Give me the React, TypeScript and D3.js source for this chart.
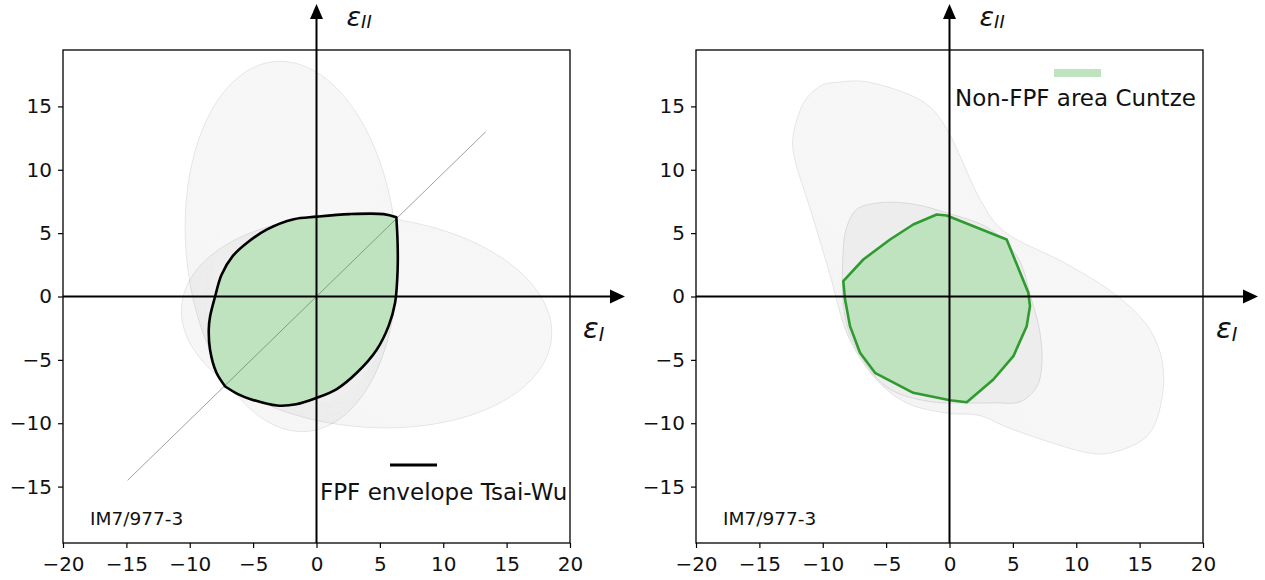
import React, { useEffect, useRef } from "react";
import * as d3 from "d3";

type Pt = [number, number];

const xTicks = [-20, -15, -10, -5, 0, 5, 10, 15, 20];
const yTicks = [-15, -10, -5, 0, 5, 10, 15];
const materialLabel = "IM7/977-3";
const tsaiWuLegend = "FPF envelope Tsai-Wu";
const cuntzeLegend = "Non-FPF area Cuntze";

// ply envelopes (Tsai-Wu): cx, cy, rx, ry, rotation in degrees
const tsaiWu90Outer = [-2.0, 3.95, 8.3, 14.65, 5];
const tsaiWu90Inner = [-1.3, 0.3, 7.0, 9.0, 5];
const tsaiWu0Outer = [3.95, -2.0, 14.65, 8.3, -5];
const tsaiWu0Inner = [0.3, -1.3, 9.0, 7.0, -5];

const diagonal: Pt[] = [[-14.9, -14.5], [13.35, 13.0]];

// FPF envelope, two arcs between the sharp corners
const tsaiWuUpperArc: Pt[] = [
  [6.3, 6.25], [5.3, 6.5], [2.6, 6.5], [0, 6.3], [-1.8, 6.1], [-3.9, 5.3],
  [-5.4, 4.3], [-6.6, 3.2], [-7.5, 1.7], [-8.0, 0], [-8.4, -1.6], [-8.5, -2.6],
  [-8.4, -4.2], [-7.9, -6.0], [-7.2, -7.1],
];
const tsaiWuLowerArc: Pt[] = [
  [-7.2, -7.1], [-6.2, -7.7], [-5.2, -8.1], [-3.1, -8.6], [-1.6, -8.5], [0, -8.0],
  [1.6, -7.3], [3.2, -6.0], [4.75, -4.2], [5.7, -2.3], [6.2, -0.5], [6.4, 2.1],
  [6.4, 4.2], [6.3, 6.25],
];

// Cuntze ply areas
const cuntzeOuter: Pt[] = [
  [-8.9, 16.9], [-6.3, 16.9], [-2.3, 15.5], [-0.2, 13.2], [2.4, 7.7], [4.5, 5.0],
  [9.0, 2.7], [12.9, 0.3], [15.6, -2.3], [16.8, -5.2], [16.7, -8.4], [15.6, -11.0],
  [12.9, -12.3], [10.3, -12.2], [5.0, -10.5], [2.4, -9.4], [-0.2, -9.2],
  [-3.4, -8.4], [-6.0, -6.3], [-8.1, -2.9], [-9.4, 1.6], [-10.8, 6.3],
  [-12.2, 10.8], [-12.3, 12.9], [-11.5, 15.3], [-10.2, 16.6],
];
const cuntzeInner: Pt[] = [
  [-8.4, 3.4], [-8.1, 5.5], [-7.3, 6.9], [-5.5, 7.4], [-2.9, 7.3], [-0.2, 6.6],
  [2.9, 5.5], [4.5, 4.2], [5.6, 2.7], [6.4, 0], [7.1, -2.6], [7.3, -5.2],
  [6.9, -7.1], [5.6, -8.3], [3.7, -8.4], [1.4, -8.4], [-1.5, -8.3], [-4.7, -7.3],
  [-6.8, -5.0], [-8.2, -1.8],
];
const cuntzeEnvelope: Pt[] = [
  [-8.38, 1.21], [-6.8, 2.92], [-4.69, 4.5], [-2.86, 5.68], [-1.01, 6.47],
  [-0.22, 6.39], [4.51, 4.5], [6.22, 0.29], [6.35, -0.77], [6.09, -2.34],
  [5.04, -4.71], [3.46, -6.55], [1.36, -8.34], [0.04, -8.18], [-2.86, -7.6],
  [-5.88, -6.02], [-7.06, -4.44], [-7.85, -2.34], [-8.24, -0.24],
];

const W = 1265;
const H = 580;
const yTop = 50;
const yBottom = 543;
const font = "DejaVu Sans, Verdana, sans-serif";
const greenFill = "#2ca02c";
const greenLine = "#2f9a2f";

function ellipsePts([cx, cy, rx, ry, deg]: number[], n = 240): Pt[] {
  const a = (deg * Math.PI) / 180;
  return d3.range(n).map((i) => {
    const t = (2 * Math.PI * i) / n;
    const u = rx * Math.cos(t);
    const v = ry * Math.sin(t);
    return [cx + u * Math.cos(a) - v * Math.sin(a), cy + u * Math.sin(a) + v * Math.cos(a)] as Pt;
  });
}

// closed Catmull-Rom smoothing of an outline
function smooth(pts: Pt[], steps = 10): Pt[] {
  const n = pts.length;
  const out: Pt[] = [];
  for (let i = 0; i < n; i++) {
    const p0 = pts[(i - 1 + n) % n];
    const p1 = pts[i];
    const p2 = pts[(i + 1) % n];
    const p3 = pts[(i + 2) % n];
    for (let s = 0; s < steps; s++) {
      const t = s / steps;
      const t2 = t * t;
      const t3 = t2 * t;
      const f = (k: number) =>
        0.5 *
        (2 * p1[k] +
          (-p0[k] + p2[k]) * t +
          (2 * p0[k] - 5 * p1[k] + 4 * p2[k] - p3[k]) * t2 +
          (-p0[k] + 3 * p1[k] - 3 * p2[k] + p3[k]) * t3);
      out.push([f(0), f(1)]);
    }
  }
  return out;
}

// distance from origin to outline along each angle
function radii(poly: Pt[], angles: number[]) {
  return angles.map((phi) => {
    const dx = Math.cos(phi);
    const dy = Math.sin(phi);
    let best = 0;
    for (let i = 0; i < poly.length; i++) {
      const a = poly[i];
      const b = poly[(i + 1) % poly.length];
      const ex = b[0] - a[0];
      const ey = b[1] - a[1];
      const den = dx * ey - dy * ex;
      if (Math.abs(den) < 1e-12) continue;
      const t = (a[0] * ey - a[1] * ex) / den;
      const s = (a[0] * dy - a[1] * dx) / den;
      if (s >= 0 && s <= 1 && t > best) best = t;
    }
    return best;
  });
}

// nested contour texture between an outer and an inner outline
function nested(outer: Pt[], inner: Pt[], n: number): Pt[][] {
  const angles = d3.range(360).map((i) => (2 * Math.PI * i) / 360);
  const rO = radii(outer, angles);
  const rI = radii(inner, angles);
  return d3.range(n + 1).map((k) =>
    angles.map((phi, j) => {
      const r = rI[j] + ((rO[j] - rI[j]) * k) / n;
      return [r * Math.cos(phi), r * Math.sin(phi)] as Pt;
    })
  );
}

function Arrowed({ x, y }: { x: d3.ScaleLinear<number, number>; y: d3.ScaleLinear<number, number> }) {
  const x0 = x(0);
  const y0 = y(0);
  const xEnd = x(20) + 55;
  return (
    <g>
      <line x1={x(-20)} x2={xEnd - 13} y1={y0} y2={y0} stroke="#000" strokeWidth={2} />
      <path d={`M${xEnd},${y0}L${xEnd - 15},${y0 - 7}L${xEnd - 15},${y0 + 7}Z`} fill="#000" />
      <line x1={x0} x2={x0} y1={yBottom} y2={18} stroke="#000" strokeWidth={2} />
      <path d={`M${x0},4L${x0 - 6.5},19L${x0 + 6.5},19Z`} fill="#000" />
    </g>
  );
}

function Panel({ left, kind }: { left: number; kind: "tsai" | "cuntze" }) {
  const axRef = useRef<SVGGElement>(null);
  const x = d3.scaleLinear().domain([-20, 20]).range([left, left + 507]);
  const y = d3.scaleLinear().domain([-19.45, 19.45]).range([yBottom, yTop]);
  const toPx = (p: Pt): Pt => [x(p[0]), y(p[1])];
  const closed = d3.line<Pt>().curve(d3.curveLinearClosed);
  const smoothClosed = d3.line<Pt>().curve(d3.curveCatmullRomClosed);
  const open = d3.line<Pt>().curve(d3.curveCatmullRom);

  useEffect(() => {
    const g = d3.select(axRef.current);
    g.select<SVGGElement>(".x-axis")
      .attr("transform", `translate(0,${yBottom})`)
      .call(d3.axisBottom(x).tickValues(xTicks).tickSize(5).tickPadding(9).tickFormat(d3.format("d")))
      .call((s) => s.select(".domain").remove())
      .attr("font-size", 20)
      .attr("font-family", font);
    g.select<SVGGElement>(".y-axis")
      .attr("transform", `translate(${left},0)`)
      .call(d3.axisLeft(y).tickValues(yTicks).tickSize(5).tickPadding(6).tickFormat(d3.format("d")))
      .call((s) => s.select(".domain").remove())
      .attr("font-size", 20)
      .attr("font-family", font);
    g.selectAll(".tick line").attr("stroke-width", 1.2);
    g.selectAll(".tick text").attr("fill", "#111");
  }, []);

  let families: Pt[][][] = [];
  if (kind === "tsai") {
    families = [
      nested(ellipsePts(tsaiWu90Outer), ellipsePts(tsaiWu90Inner), 36),
      nested(ellipsePts(tsaiWu0Outer), ellipsePts(tsaiWu0Inner), 36),
    ];
  } else {
    families = [nested(smooth(cuntzeOuter), smooth(cuntzeInner), 32)];
  }

  let envPath = "";
  if (kind === "tsai") {
    const a = open(tsaiWuUpperArc.map(toPx)) || "";
    const b = (open(tsaiWuLowerArc.map(toPx)) || "").replace(/^M/, "L");
    envPath = a + b + "Z";
  } else {
    envPath = closed(cuntzeEnvelope.map(toPx)) || "";
  }

  const x0 = x(0);

  return (
    <g>
      {families.map((fam, fi) => (
        <g key={fi}>
          {fam.map((c, k) => (
            <path
              key={k}
              d={closed(c.map(toPx)) || ""}
              fill="#000"
              fillOpacity={k === fam.length - 1 ? 0.03 : 0.0017}
              stroke="#000"
              strokeOpacity={k === fam.length - 1 ? 0.13 : 0.02}
              strokeWidth={k === fam.length - 1 ? 0.7 : 0.5}
            />
          ))}
        </g>
      ))}
      {kind === "cuntze" && (
        <path
          d={smoothClosed(cuntzeInner.map(toPx)) || ""}
          fill="#000"
          fillOpacity={0.04}
          stroke="#000"
          strokeOpacity={0.13}
          strokeWidth={0.8}
        />
      )}
      <path d={envPath} fill="#fff" />
      {kind === "tsai" && (
        <line
          x1={x(diagonal[0][0])}
          y1={y(diagonal[0][1])}
          x2={x(diagonal[1][0])}
          y2={y(diagonal[1][1])}
          stroke="#888"
          strokeWidth={0.8}
        />
      )}
      <path
        d={envPath}
        fill={greenFill}
        fillOpacity={0.3}
        stroke={kind === "tsai" ? "#000" : greenLine}
        strokeWidth={2.6}
        strokeLinejoin="round"
      />
      <rect x={left} y={yTop} width={507} height={yBottom - yTop} fill="none" stroke="#000" strokeWidth={1.3} />
      <Arrowed x={x} y={y} />
      <g ref={axRef}>
        <g className="x-axis" />
        <g className="y-axis" />
      </g>
      <text x={left + 27} y={525} fontFamily={font} fontSize={18.5} fill="#111">
        {materialLabel}
      </text>
      <text x={x0 + 30} y={26} fontFamily={font} fontSize={27} fontStyle="italic" fill="#111">
        ε<tspan fontSize={18} dy={2}>II</tspan>
      </text>
      <text x={x(20) + 13} y={338} fontFamily={font} fontSize={29} fontStyle="italic" fill="#111">
        ε<tspan fontSize={19} dy={3}>I</tspan>
      </text>
      {kind === "tsai" ? (
        <g>
          <line x1={left + 327} x2={left + 374} y1={465} y2={465} stroke="#000" strokeWidth={3} />
          <text x={left + 257} y={500} fontFamily={font} fontSize={23} fill="#111">
            {tsaiWuLegend}
          </text>
        </g>
      ) : (
        <g>
          <rect x={left + 358} y={69} width={47} height={8} fill={greenFill} fillOpacity={0.3} />
          <text x={left + 259} y={106} fontFamily={font} fontSize={23} fill="#111">
            {cuntzeLegend}
          </text>
        </g>
      )}
    </g>
  );
}

export default function App() {
  return (
    <svg
      width={W}
      height={H}
      style={{ position: "absolute", left: 0, top: 0, background: "#fff" }}
    >
      <rect width={W} height={H} fill="#fff" />
      <Panel left={63} kind="tsai" />
      <Panel left={696} kind="cuntze" />
    </svg>
  );
}
